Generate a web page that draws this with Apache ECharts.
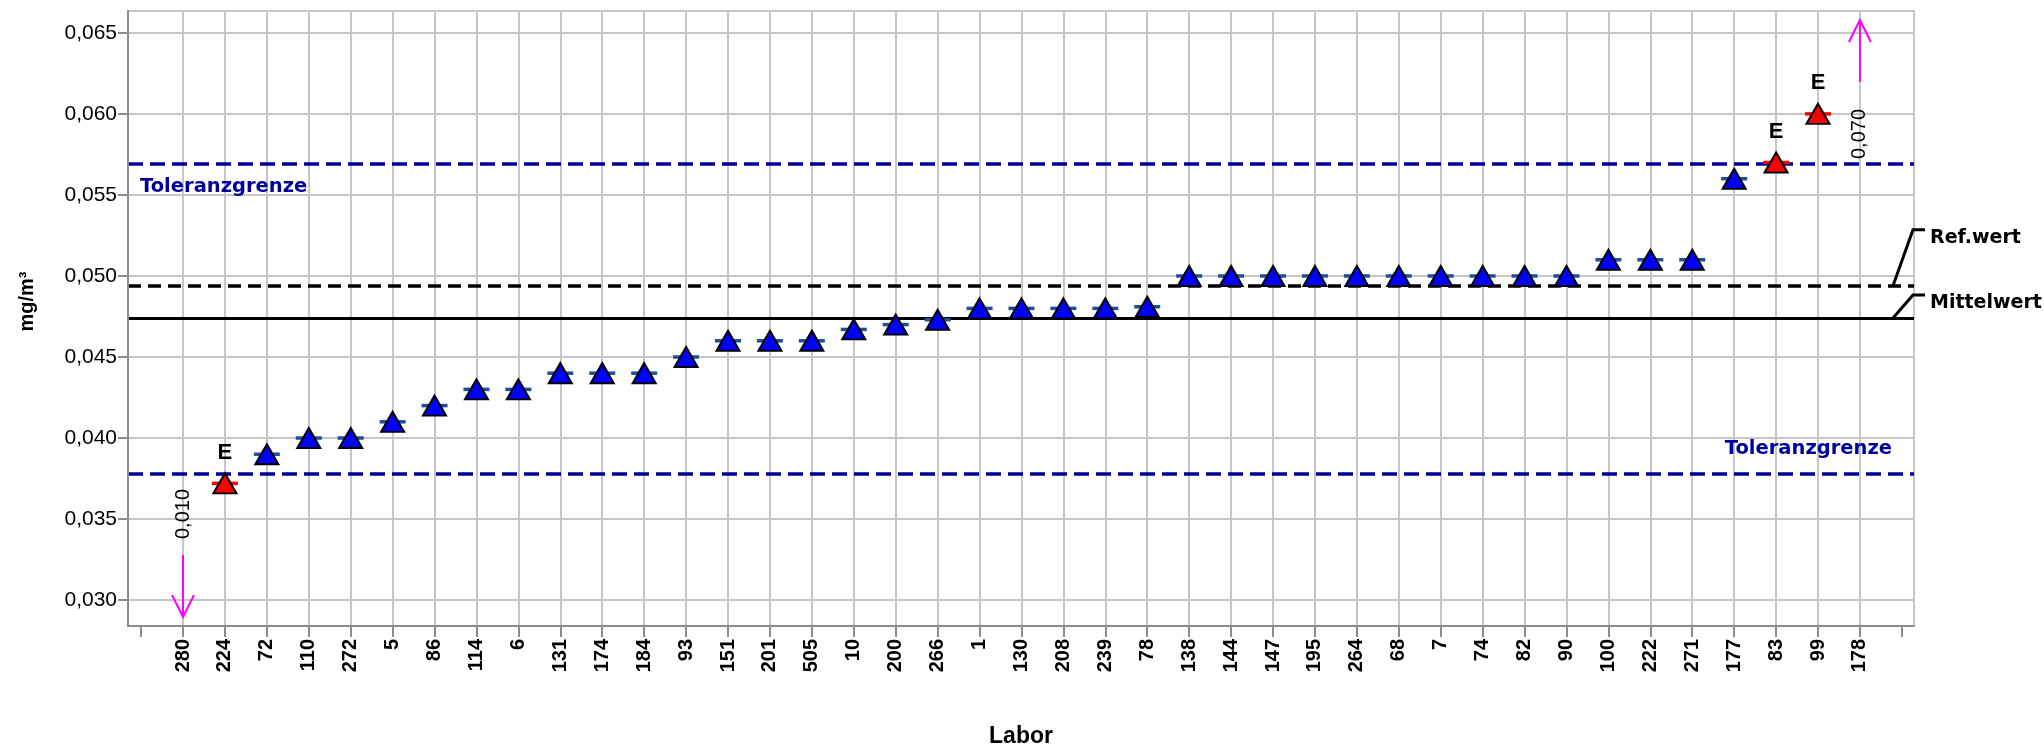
<!DOCTYPE html>
<html>
<head>
<meta charset="utf-8">
<script src="https://cdn.jsdelivr.net/npm/echarts@6/dist/echarts.min.js"></script>
<style>
  html, body { margin: 0; padding: 0; background: #ffffff; }
  #chart { width: 2044px; height: 753px; }
</style>
</head>
<body>
<div id="chart"></div>
<script>
// Laboratory codes along the x axis, sorted by reported concentration
const labs = ['280','224','72','110','272','5','86','114','6','131','174','184','93','151','201','505',
  '10','200','266','1','130','208','239','78','138','144','147','195','264','68','7','74','82','90',
  '100','222','271','177','83','99','178'];

// Reported concentration per laboratory (mg/m³)
const values = [0.010, 0.0372, 0.039, 0.040, 0.040, 0.041, 0.042, 0.043, 0.043, 0.044, 0.044, 0.044,
  0.045, 0.046, 0.046, 0.046, 0.0467, 0.047, 0.0473, 0.048, 0.048, 0.048, 0.048, 0.0481,
  0.050, 0.050, 0.050, 0.050, 0.050, 0.050, 0.050, 0.050, 0.050, 0.050,
  0.051, 0.051, 0.051, 0.056, 0.057, 0.060, 0.070];

// Reference values
const tolUpper = 0.0569;
const tolLower = 0.0378;
const refValue = 0.0494;
const meanValue = 0.0474;

// Y axis tick values
const yTicks = [0.030, 0.035, 0.040, 0.045, 0.050, 0.055, 0.060, 0.065];

// Axis ranges
const Y_MIN = 0.0284, Y_MAX = 0.06635;
const X_MIN = -1.312, X_MAX = 41.29;

const fmt = v => v.toFixed(3).replace('.', ',');
const xIdx = labs.map((_, i) => i);
const tickIdx = [-1].concat(xIdx, [labs.length]);
const isOut = v => v < tolLower || v > tolUpper;
const onScale = xIdx.filter(i => values[i] >= Y_MIN && values[i] <= Y_MAX);
const offScale = xIdx.filter(i => values[i] < Y_MIN || values[i] > Y_MAX);

const BLUE_LINE = '#000099';
const GRID = '#c6c6c6';
const AXIS = '#8c8c8c';
const ARIAL = 'Liberation Sans, Arial, sans-serif';
const WIDE = 'DejaVu Sans, sans-serif';

const chart = echarts.init(document.getElementById('chart'));

const option = {
  animation: false,
  backgroundColor: '#ffffff',
  grid: { left: 128, right: 130, top: 11, bottom: 124, show: true, borderColor: GRID, borderWidth: 2 },
  xAxis: {
    type: 'value', min: X_MIN, max: X_MAX, z: 3,
    axisLine: { show: true, onZero: false, lineStyle: { color: AXIS, width: 2 } },
    axisTick: { show: true, customValues: tickIdx, length: 11, lineStyle: { color: AXIS, width: 2 } },
    axisLabel: {
      customValues: xIdx, rotate: 90, margin: 13,
      formatter: v => labs[Math.round(v)] || '',
      fontFamily: ARIAL, fontWeight: 'bold', fontSize: 20, color: '#000'
    },
    splitLine: { show: false },
    name: 'Labor', nameLocation: 'middle', nameGap: 99,
    nameTextStyle: { fontFamily: ARIAL, fontWeight: 'bold', fontSize: 23, color: '#000' }
  },
  yAxis: {
    type: 'value', min: Y_MIN, max: Y_MAX, z: 3,
    axisLine: { show: true, onZero: false, lineStyle: { color: AXIS, width: 2 } },
    axisTick: { show: true, customValues: yTicks, length: 10, lineStyle: { color: AXIS, width: 2 } },
    axisLabel: {
      customValues: yTicks, margin: 11, formatter: v => fmt(v),
      fontFamily: ARIAL, fontSize: 21, color: '#000'
    },
    splitLine: { show: false },
    name: 'mg/m³', nameLocation: 'middle', nameGap: 91,
    nameTextStyle: { fontFamily: ARIAL, fontWeight: 'bold', fontSize: 20, color: '#000', padding: [0, 0, 0, 34] }
  },
  series: [
    // grid lines at every laboratory and every y tick
    {
      type: 'scatter', data: [], silent: true, z: 1,
      markLine: {
        silent: true, symbol: ['none', 'none'], animation: false, precision: 6, z: 1,
        label: { show: false },
        lineStyle: { color: GRID, width: 2, type: 'solid' },
        data: xIdx.map(i => ({ xAxis: i })).concat(yTicks.map(v => ({ yAxis: v })))
      }
    },
    // tolerance limits, reference value and mean
    {
      type: 'scatter', data: [], silent: true, z: 2,
      markLine: {
        silent: true, symbol: ['none', 'none'], animation: false, precision: 6, z: 2,
        data: [
          { yAxis: tolUpper, lineStyle: { color: BLUE_LINE, width: 3.5, type: [15, 7] },
            label: { show: true, formatter: 'Toleranzgrenze', position: 'insideStartBottom', distance: [12, 13],
              fontFamily: WIDE, fontWeight: 'bold', fontSize: 19.5, color: BLUE_LINE } },
          { yAxis: tolLower, lineStyle: { color: BLUE_LINE, width: 3.5, type: [15, 7] },
            label: { show: true, formatter: 'Toleranzgrenze', position: 'insideEndTop', distance: [22, 15],
              fontFamily: WIDE, fontWeight: 'bold', fontSize: 19.5, color: BLUE_LINE } },
          { yAxis: refValue, lineStyle: { color: '#000', width: 3.5, type: [13, 7] }, label: { show: false } },
          { yAxis: meanValue, lineStyle: { color: '#000', width: 3, type: 'solid' }, label: { show: false } }
        ]
      }
    },
    // short value bars behind each marker
    {
      type: 'custom', z: 8, silent: true,
      data: onScale.map(i => [i, values[i]]),
      renderItem: (params, api) => {
        const p = api.coord([api.value(0), api.value(1)]);
        const out = isOut(api.value(1));
        return {
          type: 'line',
          shape: { x1: p[0] - 13, y1: p[1], x2: p[0] + 13, y2: p[1] },
          style: { stroke: out ? '#ff0000' : '#1c4f9c', lineWidth: 3.5 }
        };
      }
    },
    // laboratory results
    {
      type: 'scatter', z: 9, symbol: 'triangle', symbolSize: [23, 20],
      data: onScale.map(i => ({
        value: [i, values[i]],
        itemStyle: { color: isOut(values[i]) ? '#ff0000' : '#0000ff' },
        label: { show: isOut(values[i]) }
      })),
      itemStyle: { borderColor: '#000', borderWidth: 2, opacity: 1 },
      emphasis: { disabled: true },
      label: {
        show: false, position: 'top', distance: 9, formatter: 'E',
        fontFamily: ARIAL, fontWeight: 'bold', fontSize: 22, color: '#000'
      }
    },
    // results outside the displayed range: arrow plus rotated value
    {
      type: 'custom', z: 9, silent: true, clip: false,
      data: offScale.map(i => [i, values[i]]),
      renderItem: (params, api) => {
        const cs = params.coordSys;
        const v = api.value(1);
        const x = api.coord([api.value(0), Y_MIN])[0];
        const down = v < Y_MIN;
        const edge = down ? cs.y + cs.height : cs.y;
        const s = down ? -1 : 1;
        const tip = edge + s * 9;
        const tail = edge + s * 71;
        const head = tip + s * 22;
        const labelY = edge + s * (down ? 112 : 123);
        const stroke = { stroke: '#ff00ff', lineWidth: 2, fill: null };
        return {
          type: 'group',
          children: [
            { type: 'line', shape: { x1: x, y1: tail, x2: x, y2: tip }, style: stroke },
            { type: 'polyline', shape: { points: [[x - 11, head], [x, tip], [x + 11, head]] }, style: stroke },
            { type: 'text', x: x, y: labelY, rotation: Math.PI / 2,
              style: { text: fmt(v), fill: '#000', font: '20px ' + ARIAL, align: 'center', verticalAlign: 'middle' } }
          ]
        };
      }
    },
    // names of the reference lines, right of the plot
    {
      type: 'custom', z: 9, silent: true, clip: false,
      data: [[X_MAX, refValue], [X_MAX, meanValue]],
      renderItem: (params, api) => {
        const names = ['Ref.wert', 'Mittelwert'];
        const rise = [56, 23];
        const cs = params.coordSys;
        const right = cs.x + cs.width;
        const y = api.coord([api.value(0), api.value(1)])[1];
        const top = y - rise[params.dataIndex];
        return {
          type: 'group',
          children: [
            { type: 'polyline', shape: { points: [[right - 21, y], [right - 1, top], [right + 11, top]] },
              style: { stroke: '#000', lineWidth: 3, fill: null } },
            { type: 'text', x: right + 16, y: top + 8,
              style: { text: names[params.dataIndex], fill: '#000', font: 'bold 19px ' + WIDE,
                align: 'left', verticalAlign: 'middle' } }
          ]
        };
      }
    }
  ]
};

chart.setOption(option);
</script>
</body>
</html>
